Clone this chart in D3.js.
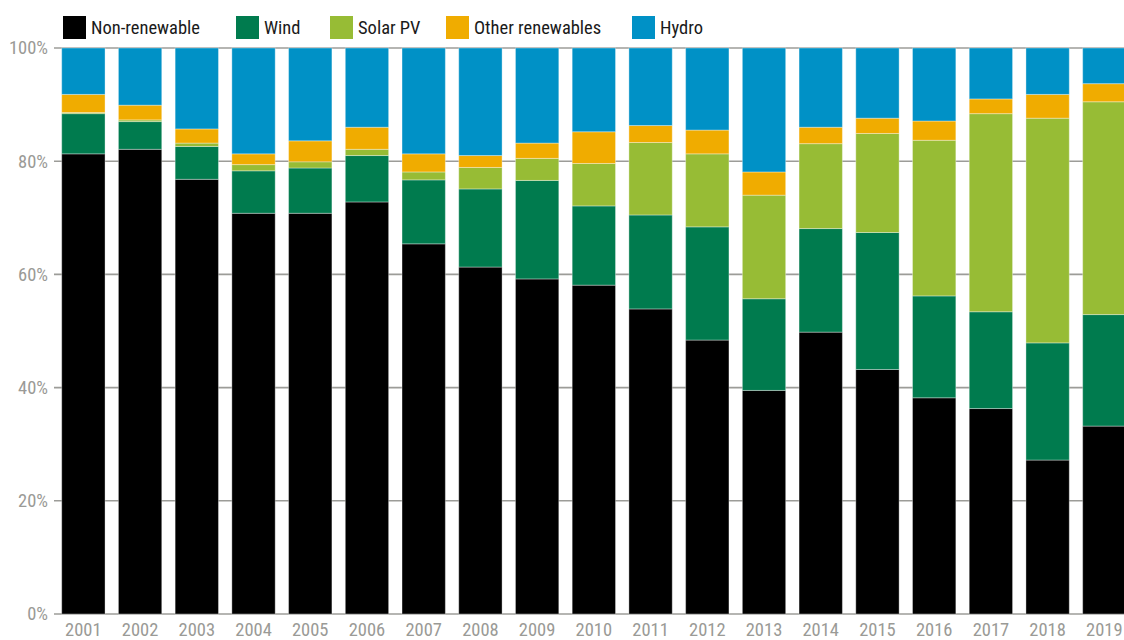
<!DOCTYPE html>
<html>
<head>
<meta charset="utf-8">
<script src="https://cdn.jsdelivr.net/npm/d3@7"></script>
<style>
  html, body { margin: 0; padding: 0; background: #fff; }
  svg { display: block; }
  text { font-family: "Liberation Sans Narrow", "Roboto Condensed", "DejaVu Sans Condensed", "Arial Narrow", sans-serif; }
</style>
</head>
<body>
<svg id="chart" width="1124" height="640"></svg>
<script>
const years = ["2001","2002","2003","2004","2005","2006","2007","2008","2009","2010","2011","2012","2013","2014","2015","2016","2017","2018","2019"];
const seriesNames = ["Non-renewable","Wind","Solar PV","Other renewables","Hydro"];
const nonRenewable = [81.3,82.1,76.8,70.8,70.8,72.8,65.4,61.3,59.2,58.1,53.9,48.4,39.5,49.8,43.2,38.2,36.3,27.2,33.2];
const wind         = [7.1,4.9,5.8,7.5,8.0,8.2,11.3,13.8,17.4,14.0,16.6,20.0,16.2,18.3,24.2,18.0,17.1,20.7,19.7];
const solarPV      = [0.2,0.3,0.6,1.1,1.1,1.1,1.4,3.8,3.9,7.5,12.8,12.9,18.3,15.0,17.5,27.5,35.0,39.7,37.6];
const otherRenew   = [3.2,2.6,2.5,1.9,3.7,3.9,3.2,2.1,2.7,5.6,3.0,4.2,4.1,2.9,2.7,3.4,2.6,4.2,3.2];
const hydro        = [8.2,10.1,14.3,18.7,16.4,14.0,18.7,19.0,16.8,14.8,13.7,14.5,21.9,14.0,12.4,12.9,9.0,8.2,6.3];
const yTicks = [0,20,40,60,80,100];
const colors = ["#000000","#007b4e","#97bc35","#f0ac00","#0091c6"];

const seriesValues = [nonRenewable, wind, solarPV, otherRenew, hydro];
const table = years.map((yr, i) => {
  const row = { year: yr };
  seriesNames.forEach((s, j) => row[s] = seriesValues[j][i]);
  return row;
});

const svg = d3.select("#chart");
const x = d3.scaleBand().domain(years).range([61.7, 1126]).paddingInner(0.236).paddingOuter(0);
const y = d3.scaleLinear().domain([0, 100]).range([614, 48]);
const color = d3.scaleOrdinal().domain(seriesNames).range(colors);

// gridlines (behind bars)
const grid = svg.append("g");
grid.selectAll("line").data(yTicks).join("line")
  .attr("x1", 54).attr("x2", 1124)
  .attr("y1", d => y(d)).attr("y2", d => y(d))
  .attr("stroke", "#9c9c98").attr("stroke-width", 1.6);

// y labels
svg.append("g").selectAll("text").data(yTicks).join("text")
  .attr("x", 48).attr("y", d => y(d))
  .attr("dy", "0.35em")
  .attr("text-anchor", "end")
  .attr("font-size", 18.5)
  .attr("fill", "#9a9a96")
  .text(d => d + "%");

// stacked bars
const stack = d3.stack().keys(seriesNames);
const layers = stack(table);
svg.append("g").selectAll("g").data(layers).join("g")
  .attr("fill", d => color(d.key))
  .selectAll("rect").data(d => d).join("rect")
  .attr("x", d => x(d.data.year))
  .attr("width", x.bandwidth())
  .attr("y", d => y(d[1]))
  .attr("height", d => Math.max(0, y(d[0]) - y(d[1])))
  .attr("stroke", "rgba(255,255,255,0.35)")
  .attr("stroke-width", 1);

// x labels
svg.append("g").selectAll("text").data(years).join("text")
  .attr("x", d => x(d) + x.bandwidth() / 2)
  .attr("y", 630)
  .attr("dy", "0.35em")
  .attr("text-anchor", "middle")
  .attr("font-size", 18.5)
  .attr("fill", "#9a9a96")
  .text(d => d);

// legend
const legendX = [63, 236, 330, 446, 632];
const legend = svg.append("g").selectAll("g").data(seriesNames).join("g")
  .attr("transform", (d, i) => `translate(${legendX[i]},16)`);
legend.append("rect").attr("width", 23).attr("height", 23).attr("fill", d => color(d));
legend.append("text").attr("x", 28).attr("y", 12).attr("dy", "0.35em")
  .attr("font-size", 18.5).attr("fill", "#1a1a1a").text(d => d);
</script>
</body>
</html>
